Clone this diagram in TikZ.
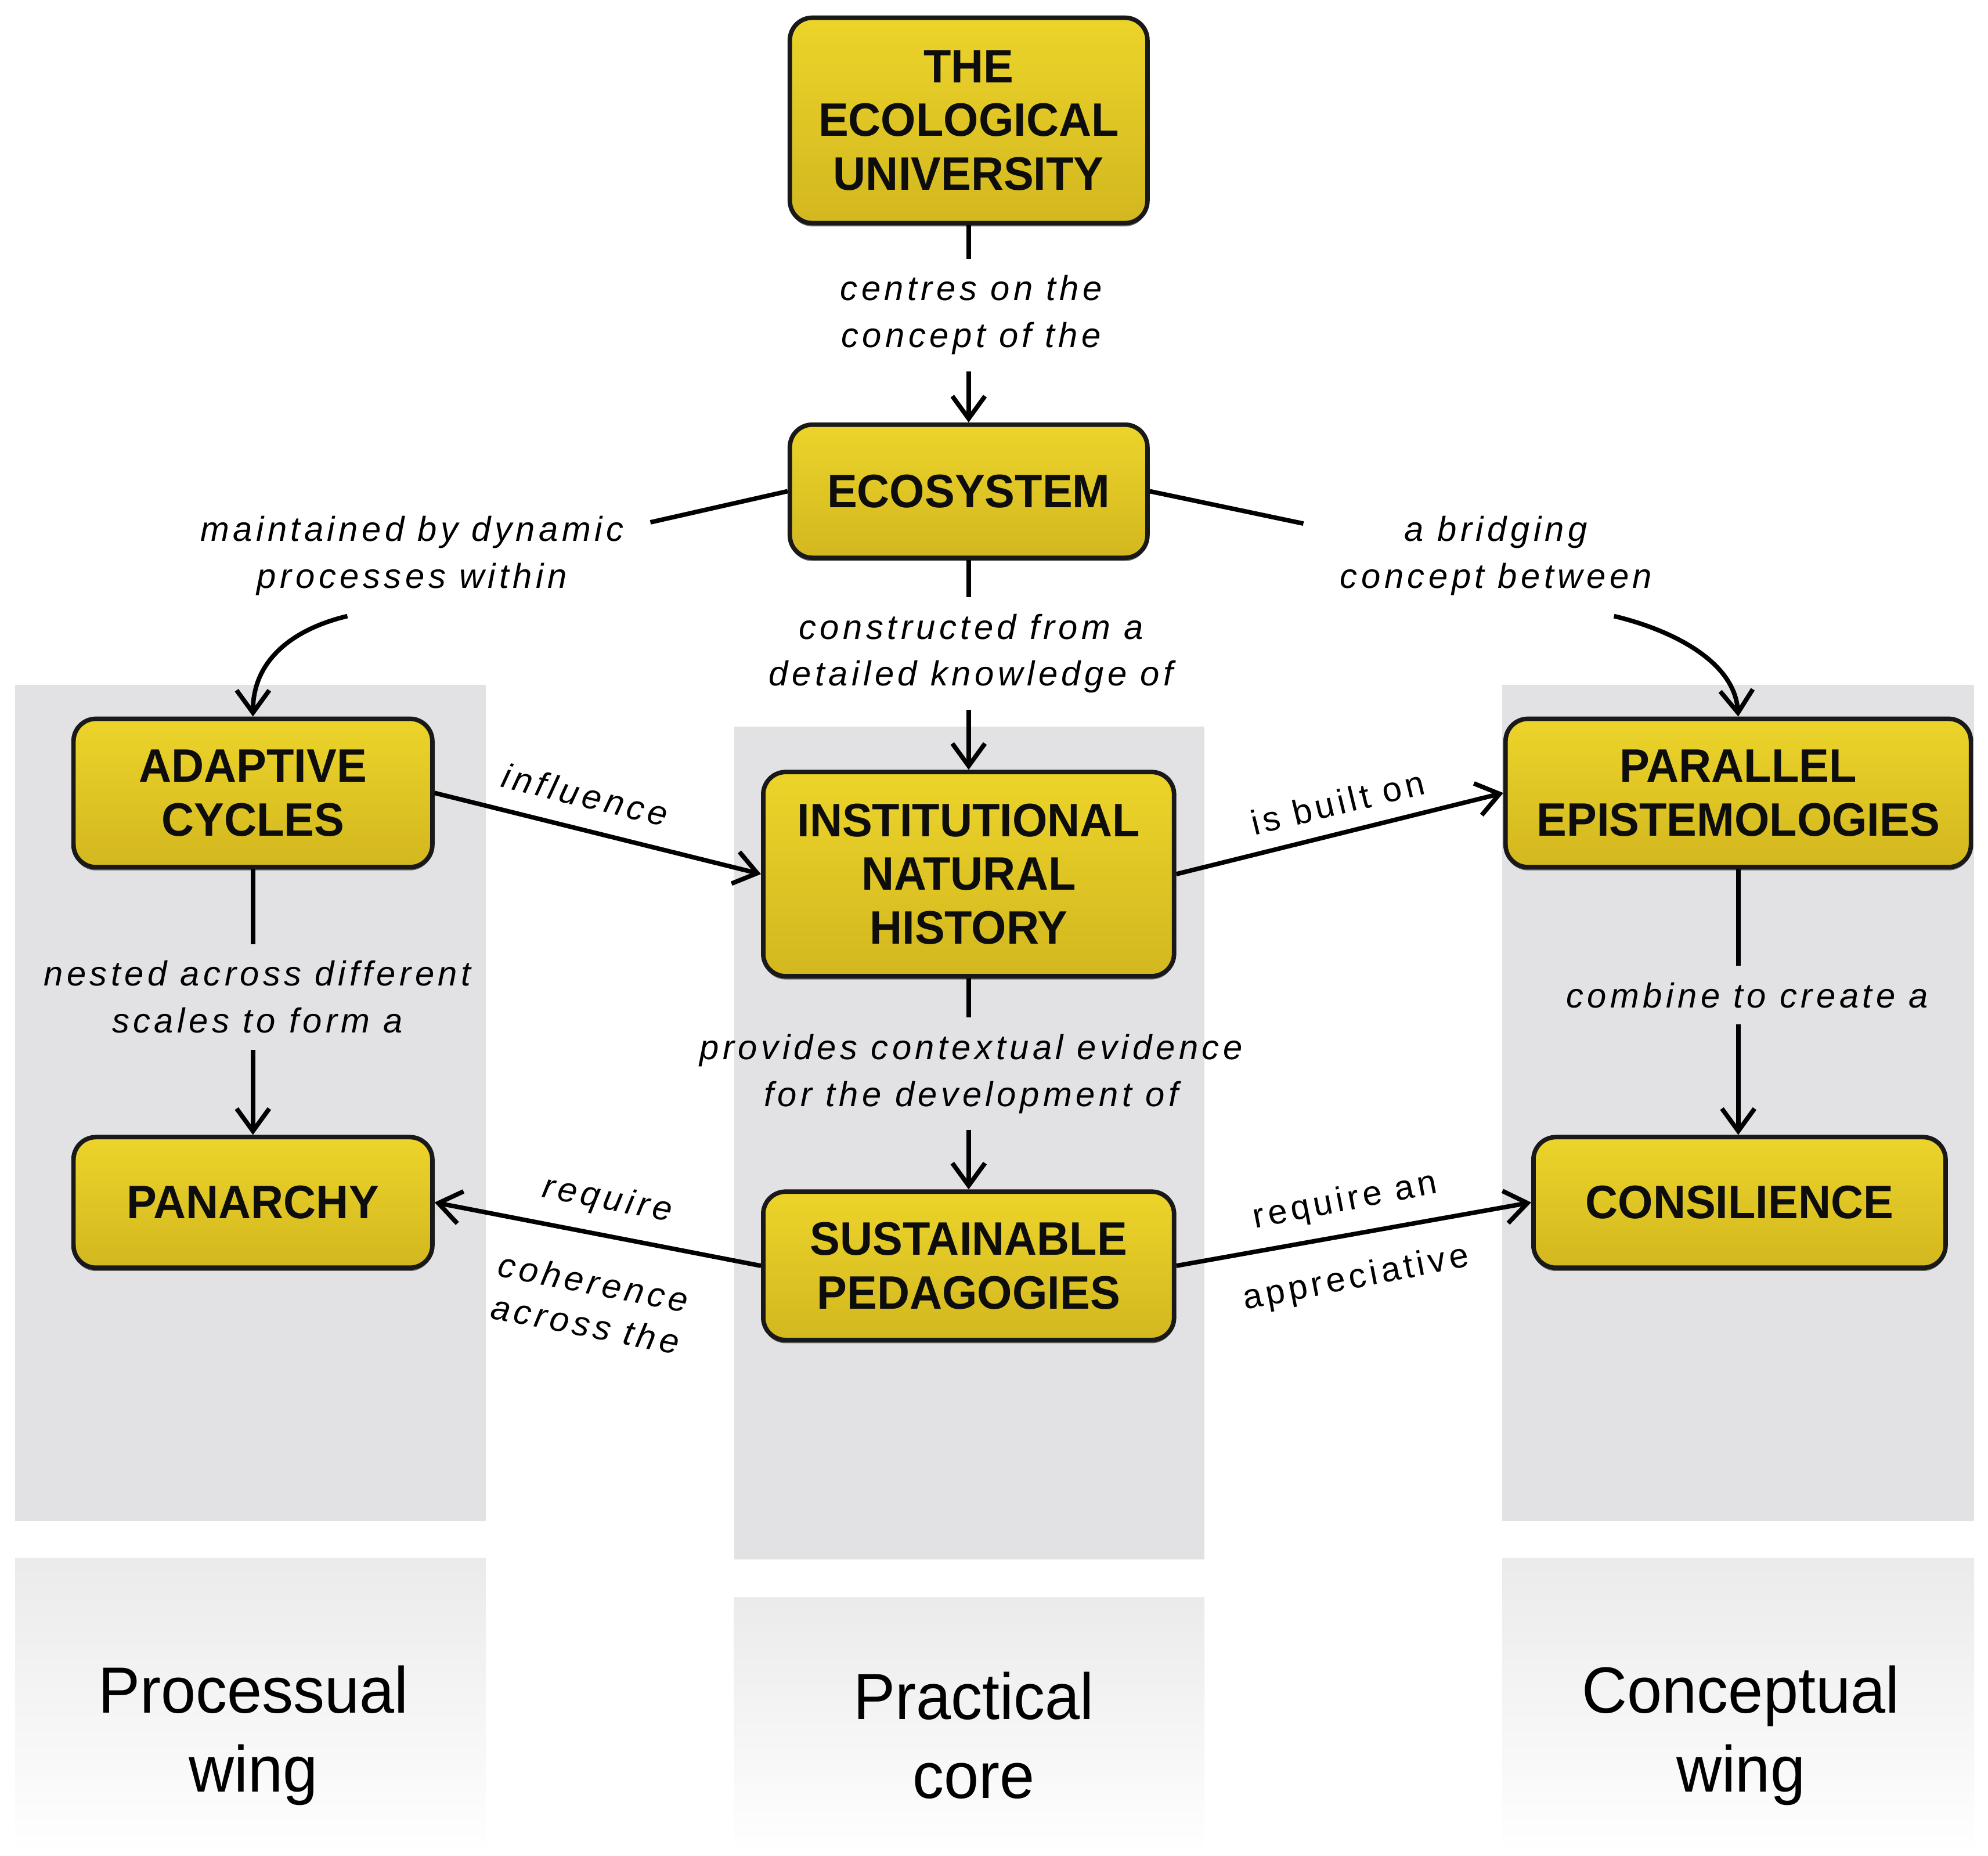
\documentclass[tikz,border=0pt]{standalone}
\usepackage{fontspec}
\setmainfont{Liberation Sans}
\newfontfamily\boxfont[FakeStretch=0.96]{Liberation Sans}
\newfontfamily\lblfont[LetterSpace=11]{Liberation Sans}
\newfontfamily\wingfont[FakeStretch=0.96]{Liberation Sans}
\usetikzlibrary{arrows.meta,shadows}
\definecolor{boxtop}{HTML}{ECD42A}
\definecolor{boxbot}{HTML}{D3B71F}
\definecolor{colbg}{HTML}{E2E1E3}
\tikzset{
  box/.style={draw=black!90, line width=2.2pt, rounded corners=11pt,
    top color=boxtop, bottom color=boxbot, align=center, inner sep=0pt,
    text=black!95, font=\boxfont\bfseries\fontsize{23}{26.4}\selectfont,
    drop shadow={shadow xshift=0pt, shadow yshift=-1.6pt, opacity=0.55, fill=black}},
  lbl/.style={align=center, inner xsep=2pt, inner ysep=8pt,
    font=\lblfont\itshape\fontsize{17}{23}\selectfont},
  lbli/.style={align=center, inner sep=1pt,
    font=\lblfont\itshape\fontsize{17}{21}\selectfont},
  lblr/.style={align=center, inner sep=1pt,
    font=\lblfont\fontsize{17}{21}\selectfont},
  wing/.style={align=center, font=\wingfont\fontsize{32}{38.5}\selectfont},
  conn/.style={line width=2.2pt, draw=black},
  arr/.style={conn, -{Straight Barb[length=11pt,width=16pt]}},
  arrs/.style={conn, {Straight Barb[length=11pt,width=16pt]}-},
}
\begin{document}
\begin{tikzpicture}[x=0.02184cm, y=-0.02184cm]
\useasboundingbox (0,0) rectangle (1568,1464);

% column backgrounds
\fill[colbg] (12,540) rectangle (383,1200);
\fill[colbg] (579,573) rectangle (950,1230);
\fill[colbg] (1185,540) rectangle (1557,1200);
\shade[top color=black!8, bottom color=white] (12,1229) rectangle (383,1464);
\shade[top color=black!8, bottom color=white] (579,1260) rectangle (950,1464);
\shade[top color=black!8, bottom color=white] (1185,1229) rectangle (1557,1464);

% boxes
\node[box, minimum width={282*0.62138pt}, minimum height={162*0.62138pt}] (uni) at (764,95) {THE\\ECOLOGICAL\\UNIVERSITY};
\node[box, minimum width={282*0.62138pt}, minimum height={105*0.62138pt}] (eco) at (764,387.5) {ECOSYSTEM};
\node[box, minimum width={283*0.62138pt}, minimum height={117*0.62138pt}] (ac) at (199.5,625.5) {ADAPTIVE\\CYCLES};
\node[box, minimum width={283*0.62138pt}, minimum height={103*0.62138pt}] (pan) at (199.5,948.5) {PANARCHY};
\node[box, minimum width={324*0.62138pt}, minimum height={161*0.62138pt}] (inh) at (764,689.5) {INSTITUTIONAL\\NATURAL\\HISTORY};
\node[box, minimum width={324*0.62138pt}, minimum height={117*0.62138pt}] (sp) at (764,998.5) {SUSTAINABLE\\PEDAGOGIES};
\node[box, minimum width={367*0.62138pt}, minimum height={117*0.62138pt}] (pe) at (1371,625.5) {PARALLEL\\EPISTEMOLOGIES};
\node[box, minimum width={325*0.62138pt}, minimum height={103*0.62138pt}] (con) at (1372,948.5) {CONSILIENCE};

% labels
\node[lbl] (lcentres) at (766,248.5) {centres on the\\concept of the};
\node[lbl] (lmaint) at (325,438.5) {maintained by dynamic\\processes within};
\node[lbl] (lbridge) at (1180,438.5) {a bridging\\concept between};
\node[lbl] (lconstr) at (766,515.5) {constructed from a\\detailed knowledge of};
\node[lbl] (lnested) at (203,786.5) {nested across different\\scales to form a};
\node[lbl] (lprov) at (766,847) {provides contextual evidence\\for the development of};
\node[lbl] (lcomb) at (1378,785) {combine to create a};
\node[lbli, rotate=-13.7] (linfl) at (461.5,627) {influence};
\node[lblr, rotate=13.7] (lbuilt) at (1055,633) {is built on};
\node[lbli, rotate=-11] (lreq) at (479,947) {require};
\node[lbli, rotate=-11] (lcoh) at (465,1028) {coherence\\across the};
\node[lblr, rotate=11] (lreqan) at (1061,948) {require an};
\node[lblr, rotate=11] (lappr) at (1069.6,1009) {appreciative};

% wing labels
\node[wing] (wproc) at (200,1369) {Processual\\wing};
\node[wing] (wprac) at (768,1369) {Practical\\core};
\node[wing] (wconc) at (1373,1369) {Conceptual\\wing};

% free ends of the split diagonal connectors
\coordinate (m1) at (513,412);
\coordinate (m2) at (274,486);
\coordinate (b1) at (1028,413);
\coordinate (b2) at (1273,486);

% connectors
\draw[conn] (uni) -- (uni |- lcentres.north);
\draw[arr] (uni |- lcentres.south) -- (eco);

\draw[conn] (eco.west) -- (m1);
\draw[arr] (m2) .. controls (232,496) and (199.5,520) .. (ac.north);

\draw[conn] (eco.east) -- (b1);
\draw[arr] (b2) .. controls (1315,496) and (1368,520) .. (pe.north);

\draw[conn] (eco) -- (eco |- lconstr.north);
\draw[arr] (eco |- lconstr.south) -- (inh);

\draw[conn] (ac) -- (ac |- lnested.north);
\draw[arr] (ac |- lnested.south) -- (pan);

\draw[conn] (inh) -- (inh |- lprov.north);
\draw[arr] (inh |- lprov.south) -- (sp);

\draw[conn] (pe) -- (pe |- lcomb.north);
\draw[arr] (pe |- lcomb.south) -- (pe |- con.north);

\draw[arr] (ac.east) -- (inh.west);
\draw[arr] (inh.east) -- (pe.west);
\draw[arrs] (pan.east) -- (sp.west);
\draw[arr] (sp.east) -- (con.west);
\end{tikzpicture}
\end{document}
